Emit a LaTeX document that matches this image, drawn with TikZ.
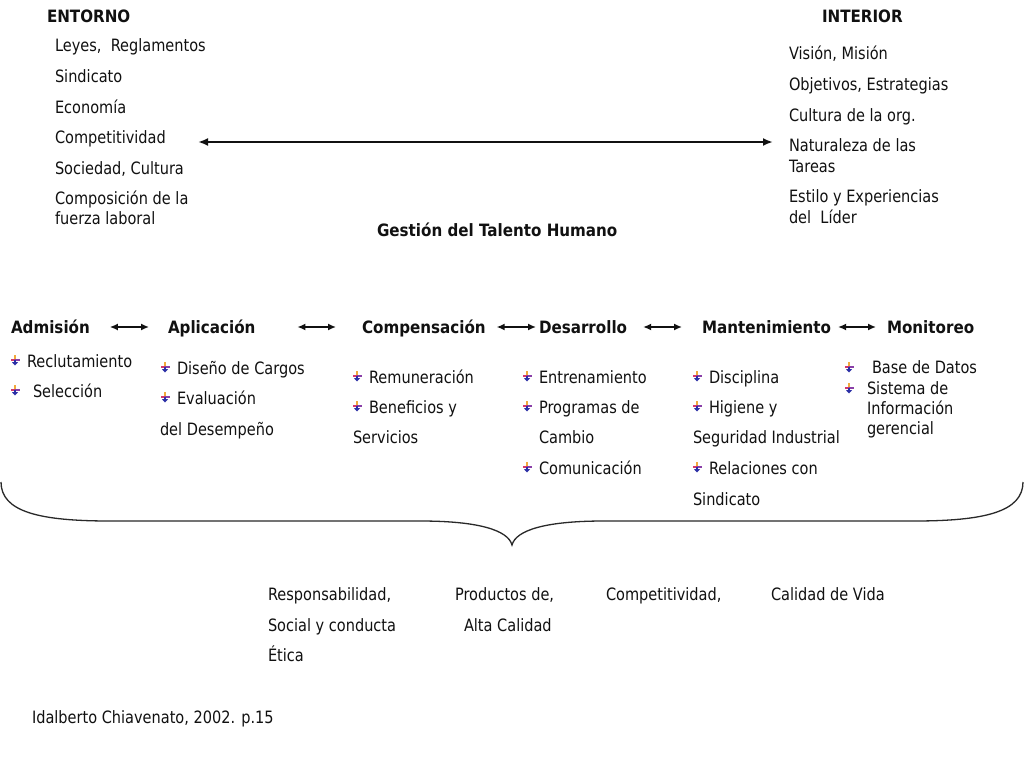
\documentclass[tikz,border=0pt]{standalone}
\usepackage{fontspec}
\setmainfont{DejaVu Sans}[FakeStretch=0.855,BoldFeatures={FakeStretch=0.89}]
\usetikzlibrary{arrows.meta}
\definecolor{bulO}{HTML}{F2A93B}
\definecolor{bulR}{HTML}{D2386C}
\definecolor{bulP}{HTML}{8A3FA8}
\definecolor{bulB}{HTML}{2B2FA6}
\definecolor{ink}{HTML}{111111}
\begin{document}
\begin{tikzpicture}[x=1bp,y=-1bp,
  txt/.style={anchor=base west,inner sep=0pt,outer sep=0pt,font=\fontsize{17bp}{20bp}\selectfont,text=ink},
  hdr/.style={txt,font=\fontsize{17bp}{20bp}\selectfont\bfseries,text height=12bp,text depth=0pt},
  bigarrow/.style={line width=2bp,draw=ink,{Latex[length=10bp,width=8bp]}-{Latex[length=10bp,width=8bp]}},
  smallarrow/.style={line width=1.5bp,draw=ink,{Latex[length=8bp,width=7bp]}-{Latex[length=8bp,width=7bp]}},
  bracestyle/.style={line width=1.3bp,draw=ink!90},
  bul/.pic={
    \fill[bulO] (-1.1,-5.2) rectangle (1.1,0);
    \fill[bulR] (-4.5,-1.1) rectangle (0,1.1);
    \fill[bulP] (0,-1.1) rectangle (4.5,1.1);
    \fill[bulB] (-1.1,0) rectangle (1.1,2.8);
    \fill[bulB] (-3,2.2) -- (3,2.2) -- (0,5.5) -- cycle;
  }]
\useasboundingbox[fill=white] (0,0) rectangle (1024,768);

% top
\node[hdr] (entorno) at (47,23) {ENTORNO};
\node[hdr] (interior) at (822,23) {INTERIOR};
\node[txt] (e1) at (55,52) {Leyes,\ \ Reglamentos};
\node[txt] (e2) at (55,83) {Sindicato};
\node[txt] (e3) at (55,113) {Economía};
\node[txt] (e4) at (55,143) {Competitividad};
\node[txt] (e5) at (55,174) {Sociedad, Cultura};
\node[txt] (e6) at (55,204) {Composición de la};
\node[txt] (e7) at (55,224) {fuerza laboral};
\node[txt] (i1) at (789,60) {Visión, Misión};
\node[txt] (i2) at (789,91) {Objetivos, Estrategias};
\node[txt] (i3) at (789,121) {Cultura de la org.};
\node[txt] (i4) at (789,151) {Naturaleza de las};
\node[txt] (i5) at (789,172) {Tareas};
\node[txt] (i6) at (789,202) {Estilo y Experiencias};
\node[txt] (i7) at (789,223) {del\ \ Líder};
\coordinate (arrL) at (198,142);
\coordinate (arrR) at (773,142);
\draw[bigarrow] (arrL) -- (arrR);
\node[hdr] (gth) at (377,236) {Gestión del Talento Humano};

% headers
\node[hdr] (adm) at (11,333) {Admisión};
\node[hdr] (apl) at (168,333) {Aplicación};
\node[hdr] (com) at (362,333) {Compensación};
\node[hdr] (des) at (539,333) {Desarrollo};
\node[hdr] (man) at (702,333) {Mantenimiento};
\node[hdr] (mon) at (887,333) {Monitoreo};
\draw[smallarrow,shorten <=20bp,shorten >=19bp] (adm.east) -- (apl.west);
\draw[smallarrow,shorten <=42bp,shorten >=26bp] (apl.east) -- (com.west);
\draw[smallarrow,shorten <=11bp,shorten >=3bp] (com.east) -- (des.west);
\draw[smallarrow,shorten <=16bp,shorten >=20bp] (des.east) -- (man.west);
\draw[smallarrow,shorten <=7bp,shorten >=11bp] (man.east) -- (mon.west);

% Admision
\pic (b11) at (15,360) {bul};
\node[txt] (a1) at (27,367) {Reclutamiento};
\pic (b12) at (15,390) {bul};
\node[txt] (a2) at (33,397) {Selección};
% Aplicacion
\pic (b21) at (165,367) {bul};
\node[txt] (p1) at (177,374) {Diseño de Cargos};
\pic (b22) at (165,397) {bul};
\node[txt] (p2) at (177,404) {Evaluación};
\node[txt] (p3) at (160,435) {del Desempeño};
% Compensacion
\pic (b31) at (357,376) {bul};
\node[txt] (c1) at (369,383) {Remuneración};
\pic (b32) at (357,406) {bul};
\node[txt] (c2) at (369,413) {Beneficios y};
\node[txt] (c3) at (353,443) {Servicios};
% Desarrollo
\pic (b41) at (527,376) {bul};
\node[txt] (d1) at (539,383) {Entrenamiento};
\pic (b42) at (527,406) {bul};
\node[txt] (d2) at (539,413) {Programas de};
\node[txt] (d3) at (539,443) {Cambio};
\pic (b43) at (527,467) {bul};
\node[txt] (d4) at (539,474) {Comunicación};
% Mantenimiento
\pic (b51) at (697,376) {bul};
\node[txt] (m1) at (709,383) {Disciplina};
\pic (b52) at (697,406) {bul};
\node[txt] (m2) at (709,413) {Higiene y};
\node[txt] (m3) at (693,443) {Seguridad Industrial};
\pic (b53) at (697,467) {bul};
\node[txt] (m4) at (709,474) {Relaciones con};
\node[txt] (m5) at (693,505) {Sindicato};
% Monitoreo
\pic (b61) at (849,367) {bul};
\node[txt] (n1) at (872,373) {Base de Datos};
\pic (b62) at (849,388) {bul};
\node[txt] (n2) at (867,394) {Sistema de};
\node[txt] (n3) at (867,414) {Información};
\node[txt] (n4) at (867,434) {gerencial};

% brace
\draw[bracestyle] (1,482) .. controls (1,512) and (40,521) .. (110,521)
  -- (420,521) .. controls (478,521) and (508,530) .. (512,545)
  .. controls (516,530) and (546,521) .. (604,521)
  -- (914,521) .. controls (984,521) and (1023,512) .. (1023,482);

% results
\node[txt] (r1) at (268,600) {Responsabilidad,};
\node[txt] (r2) at (268,631) {Social y conducta};
\node[txt] (r3) at (268,661) {Ética};
\node[txt] (r4) at (455,600) {Productos de,};
\node[txt] (r5) at (464,631) {Alta Calidad};
\node[txt] (r6) at (606,600) {Competitividad,};
\node[txt] (r7) at (771,600) {Calidad de Vida};
\node[txt] (src) at (32,723) {Idalberto Chiavenato, 2002. p.15};
\end{tikzpicture}
\end{document}
